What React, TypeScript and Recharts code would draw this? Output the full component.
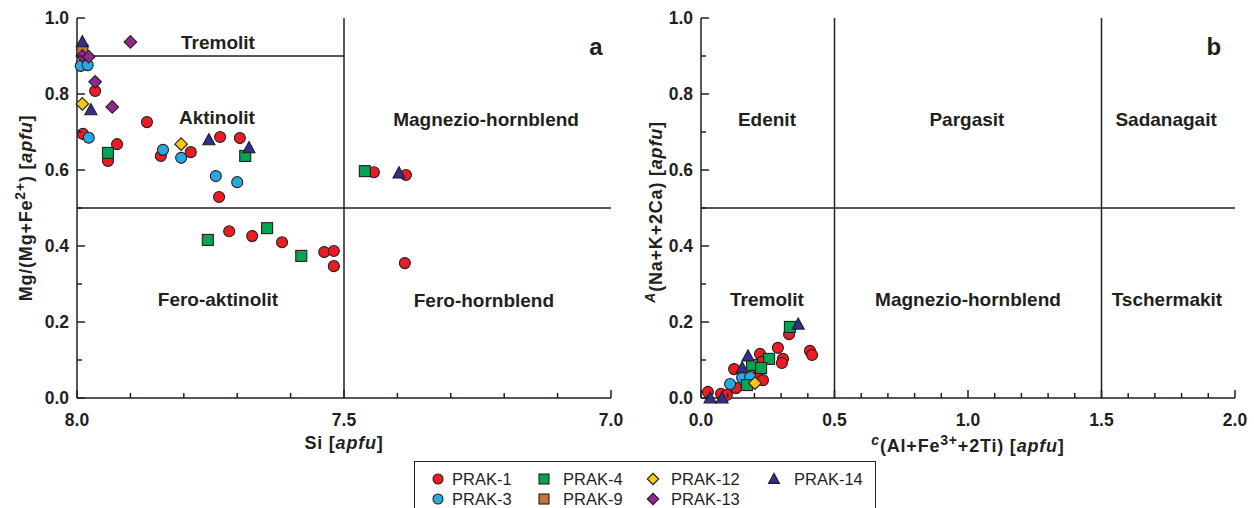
import React from 'react'
import { ScatterChart, Scatter, XAxis, YAxis, ReferenceLine, ReferenceDot, Label } from 'recharts'

const INK = '#231f20'
const FONT = '"Liberation Sans", Arial, Helvetica, sans-serif'

// Panel a: Si [apfu] vs Mg/(Mg+Fe2+)
const A_PRAK1 = [
  [7.966, 0.808], [7.869, 0.726], [7.989, 0.695], [7.925, 0.668], [7.942, 0.624],
  [7.843, 0.637], [7.787, 0.647], [7.732, 0.687], [7.695, 0.684], [7.734, 0.529],
  [7.444, 0.594], [7.384, 0.587], [7.715, 0.439], [7.672, 0.426], [7.616, 0.41],
  [7.537, 0.384], [7.519, 0.387], [7.519, 0.347], [7.386, 0.355],
]
const A_PRAK3 = [[7.993, 0.874], [7.98, 0.876], [7.978, 0.685], [7.839, 0.653], [7.805, 0.632], [7.74, 0.584], [7.7, 0.568]]
const A_PRAK4 = [[7.942, 0.645], [7.685, 0.637], [7.461, 0.597], [7.755, 0.416], [7.644, 0.447], [7.58, 0.374]]
const A_PRAK9 = [[7.99, 0.916]]
const A_PRAK12 = [[7.99, 0.774], [7.805, 0.668]]
const A_PRAK13 = [[7.9, 0.937], [7.99, 0.9], [7.978, 0.898], [7.966, 0.832], [7.934, 0.766]]
const A_PRAK14 = [[7.99, 0.937], [7.974, 0.758], [7.753, 0.679], [7.678, 0.658], [7.397, 0.592]]

// Panel b: C(Al+Fe3++2Ti) vs A(Na+K+2Ca)
const B_PRAK1 = [
  [0.33, 0.168], [0.408, 0.124], [0.416, 0.113], [0.288, 0.132], [0.307, 0.103],
  [0.303, 0.092], [0.221, 0.116], [0.228, 0.095], [0.124, 0.076], [0.213, 0.061],
  [0.232, 0.047], [0.131, 0.026], [0.026, 0.016], [0.075, 0.011], [0.097, 0.008],
]
const B_PRAK3 = [[0.154, 0.053], [0.184, 0.055], [0.109, 0.037]]
const B_PRAK4 = [[0.333, 0.187], [0.255, 0.103], [0.191, 0.087], [0.225, 0.079], [0.172, 0.034]]
const B_PRAK9: number[][] = []
const B_PRAK12 = [[0.202, 0.039]]
const B_PRAK13: number[][] = []
const B_PRAK14 = [[0.364, 0.194], [0.176, 0.11], [0.154, 0.079], [0.034, 0.0], [0.079, 0.0]]

const SERIES = ['PRAK-1', 'PRAK-3', 'PRAK-4', 'PRAK-9', 'PRAK-12', 'PRAK-13', 'PRAK-14']
const SHAPES = ['circle', 'circle', 'square', 'square', 'diamond', 'diamond', 'triangle']
const COLORS = ['#ed1c24', '#27aae1', '#00a651', '#c8733a', '#f7c815', '#92278f', '#2e3192']
const PANEL_A = [A_PRAK1, A_PRAK3, A_PRAK4, A_PRAK9, A_PRAK12, A_PRAK13, A_PRAK14]
const PANEL_B = [B_PRAK1, B_PRAK3, B_PRAK4, B_PRAK9, B_PRAK12, B_PRAK13, B_PRAK14]

// ticks
const SI_TICKS = [7.0, 7.1, 7.2, 7.3, 7.4, 7.5, 7.6, 7.7, 7.8, 7.9, 8.0]
const SI_LABELS = [7.0, 7.5, 8.0]
const C_TICKS = [0, 0.1, 0.2, 0.3, 0.4, 0.5, 0.6, 0.7, 0.8, 0.9, 1.0, 1.1, 1.2, 1.3, 1.4, 1.5, 1.6, 1.7, 1.8, 1.9, 2.0]
const C_LABELS = [0, 0.5, 1.0, 1.5, 2.0]
const Y_TICKS = [0, 0.1, 0.2, 0.3, 0.4, 0.5, 0.6, 0.7, 0.8, 0.9, 1.0]
const Y_LABELS = [0, 0.2, 0.4, 0.6, 0.8, 1.0]

// field names (data coords of label centres)
const FIELDS_A = [
  { name: 'Tremolit', x: 7.736, y: 0.937 },
  { name: 'Aktinolit', x: 7.738, y: 0.739 },
  { name: 'Magnezio-hornblend', x: 7.234, y: 0.734 },
  { name: 'Fero-aktinolit', x: 7.736, y: 0.26 },
  { name: 'Fero-hornblend', x: 7.238, y: 0.258 },
]
const FIELDS_B = [
  { name: 'Edenit', x: 0.247, y: 0.734 },
  { name: 'Pargasit', x: 0.996, y: 0.734 },
  { name: 'Sadanagait', x: 1.742, y: 0.734 },
  { name: 'Tremolit', x: 0.247, y: 0.26 },
  { name: 'Magnezio-hornblend', x: 1.0, y: 0.26 },
  { name: 'Tschermakit', x: 1.745, y: 0.26 },
]

const LEGEND_ROWS = [['PRAK-1', 'PRAK-4', 'PRAK-12', 'PRAK-14'], ['PRAK-3', 'PRAK-9', 'PRAK-13']]

const isIn = (arr: number[], v: number) => arr.some(a => Math.abs(a - v) < 1e-6)

function Marker({ cx, cy, shape, fill, s = 5.5 }: any) {
  const st = { fill, stroke: INK, strokeWidth: 1.1 }
  if (shape === 'circle') return <circle cx={cx} cy={cy} r={s} {...st} />
  if (shape === 'square') return <rect x={cx - s} y={cy - s} width={s * 2} height={s * 2} {...st} />
  if (shape === 'diamond') {
    const d = s * 1.15
    return <polygon points={`${cx},${cy - d} ${cx + d},${cy} ${cx},${cy + d} ${cx - d},${cy}`} {...st} />
  }
  const t = s * 1.1
  return <polygon points={`${cx},${cy - t * 1.05} ${cx + t},${cy + t * 0.8} ${cx - t},${cy + t * 0.8}`} {...st} />
}

const tickStyle = { fill: INK, fontFamily: FONT, fontWeight: 700, fontSize: 17.5 }
const titleStyle = { fill: INK, fontFamily: FONT, fontWeight: 700, fontSize: 18, letterSpacing: 0.8 }

// inward ticks, text only on labelled values
const xTick = (labels: number[], dir: number, text: boolean) => (p: any) => {
  const v = p.payload.value
  const major = isIn(labels, v)
  return (
    <g>
      <line x1={p.x} x2={p.x} y1={p.y} y2={p.y - dir * (major ? 8 : 5)} stroke={INK} strokeWidth={1.5} />
      {text && major && (
        <text x={p.x} y={p.y + 28} textAnchor="middle" {...tickStyle}>{v.toFixed(1)}</text>
      )}
    </g>
  )
}
const yTick = (labels: number[], dir: number, text: boolean) => (p: any) => {
  const v = p.payload.value
  const major = isIn(labels, v)
  return (
    <g>
      <line x1={p.x} x2={p.x + dir * (major ? 8 : 5)} y1={p.y} y2={p.y} stroke={INK} strokeWidth={1.5} />
      {text && major && (
        <text x={p.x - 8} y={p.y + 6} textAnchor="end" {...tickStyle}>{v.toFixed(1)}</text>
      )}
    </g>
  )
}

const axisLine = { stroke: INK, strokeWidth: 1.5 }

function fieldLabels(fields: { name: string; x: number; y: number }[]) {
  return fields.map(f => (
    <ReferenceDot
      key={f.name + f.x}
      x={f.x} y={f.y} r={0} fill="none" stroke="none"
      label={{ value: f.name, position: 'center', fill: INK, fontSize: 19, fontWeight: 700, fontFamily: FONT }}
    />
  ))
}

function series(panel: number[][][]) {
  return panel.map((pts, i) => (
    <Scatter
      key={SERIES[i]}
      name={SERIES[i]}
      data={pts.map(([x, y]) => ({ x, y }))}
      isAnimationActive={false}
      shape={(p: any) => <Marker cx={p.cx} cy={p.cy} shape={SHAPES[i]} fill={COLORS[i]} />}
    />
  ))
}

const W_A = 640
const W_B = 614
const H = 460

function PanelA() {
  return (
    <ScatterChart width={W_A} height={H} margin={{ top: 18, right: 29, bottom: 0, left: 0 }}>
      <XAxis
        dataKey="x" type="number" domain={[7, 8]} reversed ticks={SI_TICKS} interval={0}
        height={62} tickSize={0} tickMargin={0} tickLine={false} axisLine={axisLine}
        tick={xTick(SI_LABELS, 1, true)}
      >
        <Label content={(p: any) => {
          const vb = p.viewBox || { x: 77, y: 398, width: 534 }
          return (
            <text x={vb.x + vb.width / 2} y={vb.y + 51} textAnchor="middle" {...titleStyle}>
              Si [<tspan fontStyle="italic">apfu</tspan>]
            </text>
          )
        }} />
      </XAxis>
      <XAxis
        xAxisId="top" orientation="top" type="number" domain={[7, 8]} reversed ticks={SI_TICKS}
        interval={0} height={0} tickSize={0} tickMargin={0} tickLine={false} axisLine={axisLine}
        allowDataOverflow tick={xTick(SI_LABELS, -1, false)}
      />
      <YAxis
        dataKey="y" type="number" domain={[0, 1]} ticks={Y_TICKS} interval={0}
        width={77} tickSize={0} tickMargin={0} tickLine={false} axisLine={axisLine}
        tick={yTick(Y_LABELS, 1, true)}
      >
        <Label content={(p: any) => {
          const vb = p.viewBox || { x: 0, y: 18, height: 380 }
          const cx = vb.x + 32
          const cy = vb.y + vb.height / 2
          return (
            <text x={cx} y={cy} textAnchor="middle" transform={`rotate(-90 ${cx} ${cy})`} {...titleStyle}>
              Mg/(Mg+Fe<tspan dy={-7} fontSize={14}>2+</tspan><tspan dy={7}>) [</tspan>
              <tspan fontStyle="italic">apfu</tspan>]
            </text>
          )
        }} />
      </YAxis>
      <YAxis
        yAxisId="right" orientation="right" type="number" domain={[0, 1]} ticks={Y_TICKS} interval={0}
        width={0} tickSize={0} tickMargin={0} tickLine={false} axisLine={axisLine}
        allowDataOverflow tick={yTick(Y_LABELS, -1, false)}
      />
      <ReferenceLine segment={[{ x: 8, y: 0.9 }, { x: 7.5, y: 0.9 }]} stroke={INK} strokeWidth={1.5} />
      <ReferenceLine y={0.5} stroke={INK} strokeWidth={1.5} />
      <ReferenceLine x={7.5} stroke={INK} strokeWidth={1.5} />
      {fieldLabels(FIELDS_A)}
      <ReferenceDot x={7.028} y={0.926} r={0} fill="none" stroke="none"
        label={{ value: 'a', position: 'center', fill: INK, fontSize: 24, fontWeight: 700, fontFamily: FONT }} />
      {series(PANEL_A)}
    </ScatterChart>
  )
}

function PanelB() {
  return (
    <ScatterChart width={W_B} height={H} margin={{ top: 18, right: 19, bottom: 0, left: 0 }}>
      <XAxis
        dataKey="x" type="number" domain={[0, 2]} ticks={C_TICKS} interval={0}
        height={62} tickSize={0} tickMargin={0} tickLine={false} axisLine={axisLine}
        tick={xTick(C_LABELS, 1, true)}
      >
        <Label content={(p: any) => {
          const vb = p.viewBox || { x: 61, y: 398, width: 534 }
          return (
            <text x={vb.x + vb.width / 2} y={vb.y + 54} textAnchor="middle" {...titleStyle}>
              <tspan fontStyle="italic" fontSize={14} dy={-7}>c</tspan>
              <tspan dy={7}>(Al+Fe</tspan><tspan dy={-7} fontSize={14}>3+</tspan>
              <tspan dy={7}>+2Ti) [</tspan><tspan fontStyle="italic">apfu</tspan>]
            </text>
          )
        }} />
      </XAxis>
      <XAxis
        xAxisId="top" orientation="top" type="number" domain={[0, 2]} ticks={C_TICKS}
        interval={0} height={0} tickSize={0} tickMargin={0} tickLine={false} axisLine={axisLine}
        allowDataOverflow tick={xTick(C_LABELS, -1, false)}
      />
      <YAxis
        dataKey="y" type="number" domain={[0, 1]} ticks={Y_TICKS} interval={0}
        width={61} tickSize={0} tickMargin={0} tickLine={false} axisLine={axisLine}
        tick={yTick(Y_LABELS, 1, true)}
      >
        <Label content={(p: any) => {
          const vb = p.viewBox || { x: 0, y: 18, height: 380 }
          const cx = vb.x + 22
          const cy = vb.y + vb.height / 2 + 4
          return (
            <text x={cx} y={cy} textAnchor="middle" transform={`rotate(-90 ${cx} ${cy})`} {...titleStyle}>
              <tspan fontStyle="italic" fontSize={14} dy={-7}>A</tspan>
              <tspan dy={7}>(Na+K+2Ca) [</tspan><tspan fontStyle="italic">apfu</tspan>]
            </text>
          )
        }} />
      </YAxis>
      <YAxis
        yAxisId="right" orientation="right" type="number" domain={[0, 1]} ticks={Y_TICKS} interval={0}
        width={0} tickSize={0} tickMargin={0} tickLine={false} axisLine={axisLine}
        allowDataOverflow tick={yTick(Y_LABELS, -1, false)}
      />
      <ReferenceLine x={0.5} stroke={INK} strokeWidth={1.5} />
      <ReferenceLine x={1.5} stroke={INK} strokeWidth={1.5} />
      <ReferenceLine y={0.5} stroke={INK} strokeWidth={1.5} />
      {fieldLabels(FIELDS_B)}
      <ReferenceDot x={1.921} y={0.926} r={0} fill="none" stroke="none"
        label={{ value: 'b', position: 'center', fill: INK, fontSize: 24, fontWeight: 700, fontFamily: FONT }} />
      {series(PANEL_B)}
    </ScatterChart>
  )
}

const LEG_MARK_X = [23, 129, 238, 359]
const LEG_TEXT_X = [37, 148, 256, 379]
const LEG_ROW_Y = [17, 37]

function LegendBox() {
  return (
    <div style={{
      position: 'absolute', left: 414, top: 461, width: 460, height: 60,
      border: `1.5px solid ${INK}`, background: '#fff',
    }}>
      <svg width={460} height={60}>
        {LEGEND_ROWS.map((row, r) => row.map((name, c) => {
          const i = SERIES.indexOf(name)
          return (
            <g key={name}>
              <Marker cx={LEG_MARK_X[c]} cy={LEG_ROW_Y[r]} shape={SHAPES[i]} fill={COLORS[i]} s={5} />
              <text x={LEG_TEXT_X[c]} y={LEG_ROW_Y[r] + 6} fill={INK} fontFamily={FONT} fontSize={16.5}>{name}</text>
            </g>
          )
        }))}
      </svg>
    </div>
  )
}

export default function App() {
  return (
    <div style={{ position: 'absolute', left: 0, top: 0, width: 1254, height: 508, overflow: 'hidden', background: '#fff' }}>
      <div style={{ position: 'absolute', left: 0, top: 0 }}><PanelA /></div>
      <div style={{ position: 'absolute', left: 640, top: 0 }}><PanelB /></div>
      <LegendBox />
    </div>
  )
}
